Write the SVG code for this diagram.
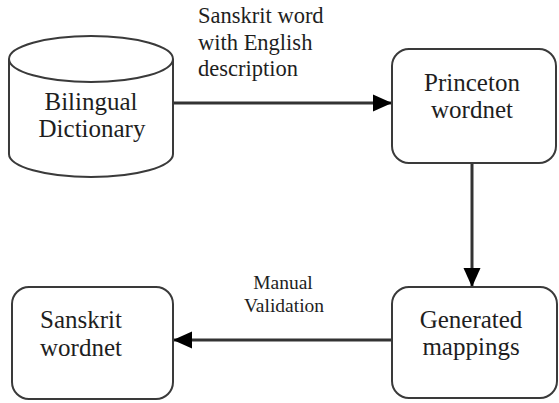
<svg xmlns="http://www.w3.org/2000/svg" width="559" height="403" viewBox="0 0 559 403">
<style>
.shape{fill:#fff;stroke:#3a3a3a;stroke-width:2}
.ntext{font-family:"Liberation Serif","Times New Roman",serif;font-size:25px;fill:#1e1e1e;text-anchor:middle}
.lbl{font-family:"Liberation Serif","Times New Roman",serif;font-size:22.5px;fill:#1e1e1e}
.small{font-family:"Liberation Serif","Times New Roman",serif;font-size:19.5px;fill:#1e1e1e;text-anchor:middle}
.edge{fill:none;stroke:#333;stroke-width:3}
</style>
<defs>
<marker id="arr" markerUnits="userSpaceOnUse" markerWidth="20" markerHeight="18" refX="19" refY="9" orient="auto">
<path d="M0,0.5 L19,9 L0,17.5 Z" fill="#000"/>
</marker>
</defs>
<rect width="559" height="403" fill="#fff"/>
<g id="connectors">
<line class="edge" x1="173" y1="103" x2="392" y2="103" marker-end="url(#arr)"/>
<line class="edge" x1="472" y1="163" x2="472" y2="287" marker-end="url(#arr)"/>
<line class="edge" x1="392" y1="340" x2="173" y2="340" marker-end="url(#arr)"/>
<text class="lbl" x="198" y="23">Sanskrit word</text>
<text class="lbl" x="198" y="50">with English</text>
<text class="lbl" x="198" y="76">description</text>
<text class="small" x="283" y="289">Manual</text>
<text class="small" x="284" y="312">Validation</text>
</g>
<g id="bilingual-dictionary">
<path class="shape" d="M9,59 A82,23 0 0,1 173,59 L173,154 A82,23 0 0,1 9,154 Z"/>
<path class="shape" d="M9,59 A82,23 0 0,0 173,59" fill="none"/>
<text class="ntext" x="91" y="110">Bilingual</text>
<text class="ntext" x="92" y="137">Dictionary</text>
</g>
<g id="princeton-wordnet">
<rect class="shape" x="392" y="49" width="164" height="114" rx="17"/>
<text class="ntext" x="472" y="91">Princeton</text>
<text class="ntext" x="472" y="118">wordnet</text>
</g>
<g id="generated-mappings">
<rect class="shape" x="392" y="287" width="165" height="111" rx="17"/>
<text class="ntext" x="471" y="328">Generated</text>
<text class="ntext" x="471" y="355">mappings</text>
</g>
<g id="sanskrit-wordnet">
<rect class="shape" x="12" y="287" width="161" height="112" rx="17"/>
<text class="ntext" x="81" y="328">Sanskrit</text>
<text class="ntext" x="81" y="356">wordnet</text>
</g>
</svg>
